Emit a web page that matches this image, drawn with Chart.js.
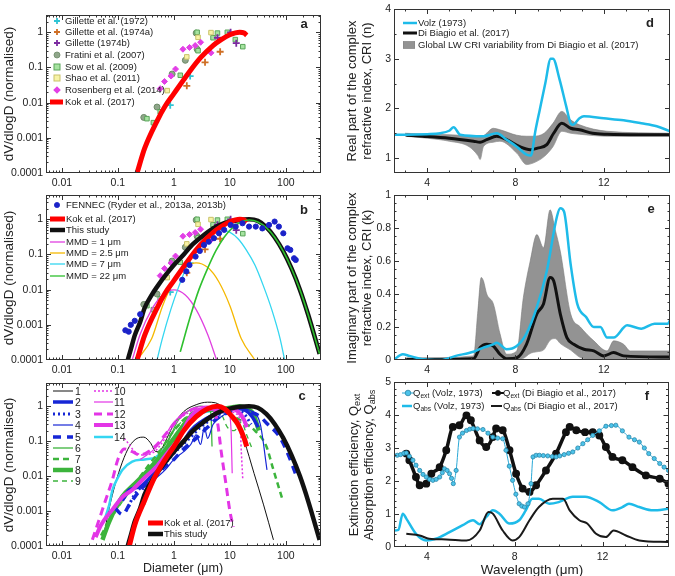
<!DOCTYPE html>
<html>
<head>
<meta charset="utf-8">
<script src="https://cdn.jsdelivr.net/npm/chart.js@4.4.1/dist/chart.umd.min.js"></script>
<style>
  body { margin: 0; background: #fff; width: 675px; height: 576px; overflow: hidden; position: relative;
         font-family: "Liberation Sans", Arial, sans-serif; color: #222; }
  canvas { position: absolute; }
  .t { position: absolute; white-space: nowrap; font-size: 9.5px; line-height: 12px; }
  .sw { position: absolute; }
  .yt { position: absolute; white-space: nowrap; text-align: center; transform: translate(-50%, -50%) rotate(-90deg); }
  .xt { position: absolute; white-space: nowrap; transform: translate(-50%, -50%); }
  .pl { position: absolute; font-weight: bold; font-size: 13px; transform: translate(-50%, -50%); }
  sub { font-size: 70%; vertical-align: -0.25em; line-height: 0; }
</style>
</head>
<body>
<script>
// ---------- panel a / b : size distributions (D in um, dV/dlogD normalised) ----------
const gil72 = [[0.86, 0.0085], [1.95, 0.057]];
const gil74a = [[1.7, 0.03], [3.6, 0.14], [6.7, 0.28]];
const gil74b = [[6, 0.7], [10.3, 1.0], [13, 0.49]];
const fratini = [[0.29, 0.0038], [0.5, 0.0075], [0.93, 0.065], [1.6, 0.16], [2.5, 0.95], [2.6, 0.33]];
const sow = [[0.33, 0.0035], [0.43, 0.0027], [0.57, 0.0055], [1.3, 0.06], [2.6, 1.0], [2.7, 0.3],
             [5, 0.7], [6, 0.95], [9, 1.0], [12.5, 0.62], [17, 0.39]];
const shao = [[0.76, 0.022], [1.7, 0.2], [2.7, 0.72], [4.6, 0.98]];
const rosenberg = [[0.57, 0.025], [0.68, 0.04], [0.89, 0.057], [1.07, 0.09], [1.45, 0.33], [1.9, 0.37],
                   [2.4, 0.42], [3, 0.52], [4.6, 0.26]];
const kok = [[0.22, 0.0001], [0.3, 0.0005], [0.5, 0.003], [0.7, 0.008], [1, 0.018], [1.5, 0.045], [2, 0.085],
             [3, 0.19], [5, 0.42], [7, 0.62], [10, 0.85], [15, 1.0], [18, 0.95], [20, 0.82]];
const fennec = [[0.136, 0.0007], [0.156, 0.00064], [0.17, 0.001], [0.2, 0.0013], [0.25, 0.002],
                [1.41, 0.019], [1.67, 0.033], [1.9, 0.05], [2.44, 0.087],
                [2.9, 0.126], [3.45, 0.186], [4.2, 0.23], [5.2, 0.29], [6.4, 0.4], [7.9, 0.5], [10.3, 0.69],
                [12.7, 0.62], [16.8, 0.77], [22, 0.62], [29, 0.62], [38, 0.55], [50, 0.69], [63, 0.86],
                [75, 0.62], [90, 0.4], [107, 0.15], [120, 0.135], [140, 0.078], [150, 0.07]];
const thisStudy = [[0.15, 0.0001], [0.17, 0.0002], [0.2, 0.0005], [0.25, 0.0012], [0.3, 0.003], [0.4, 0.007],
                   [0.5, 0.012], [0.7, 0.025], [1, 0.05], [1.5, 0.1], [2, 0.17], [3, 0.3], [5, 0.55], [7, 0.72],
                   [10, 0.85], [15, 0.96], [22, 1.0], [31.6, 0.9], [44.7, 0.6], [63, 0.31], [89, 0.126],
                   [126, 0.04], [178, 0.01], [251, 0.0019], [400, 0.00015]];
const mmd1 = [[0.18, 0.0001], [0.25, 0.00054], [0.4, 0.0027], [0.63, 0.007], [1, 0.0098], [1.6, 0.007],
              [2.5, 0.0027], [4, 0.00054], [5.8, 0.0001]];
const mmd25 = [[0.22, 0.0001], [0.4, 0.0004], [0.63, 0.0035], [1, 0.017], [1.6, 0.043], [2.5, 0.058],
               [4, 0.043], [6.3, 0.017], [10, 0.0035], [16, 0.0004], [28, 0.0001]];
const mmd7 = [[0.5, 0.0001], [0.62, 0.0004], [0.88, 0.0027], [1.24, 0.013], [1.75, 0.05], [2.5, 0.135],
              [3.5, 0.28], [4.95, 0.43], [7, 0.5], [9.9, 0.43], [14, 0.28], [19.6, 0.135], [28, 0.05],
              [39.5, 0.013], [56, 0.0027], [79, 0.0004], [95, 0.0001]];
const mmd22 = [[1.3, 0.00017], [2, 0.0019], [2.8, 0.01], [4, 0.04], [5.6, 0.126], [7.9, 0.31], [11.2, 0.58],
               [15.8, 0.84], [22.4, 0.95], [31.6, 0.84], [44.7, 0.58], [63, 0.31], [89, 0.126], [126, 0.04],
               [178, 0.01], [251, 0.0019], [400, 0.00015]];

// ---------- panel c : individual size distributions ----------
const c1 = [[0.055, 0.00017], [0.07, 0.0012], [0.09, 0.006], [0.12, 0.025], [0.16, 0.07], [0.22, 0.12],
            [0.29, 0.13], [0.38, 0.09], [0.48, 0.05], [0.6, 0.06], [0.8, 0.15], [1, 0.3], [1.5, 0.7], [2.5, 1.1],
            [4, 1.3], [5.5, 1.25], [8, 0.85], [12, 0.4], [18, 0.1], [27, 0.012], [40, 0.0015], [60, 0.00015]];
const c2 = [[0.12, 0.002], [0.16, 0.004], [0.25, 0.005], [0.4, 0.01], [0.6, 0.02], [1, 0.05], [1.5, 0.1],
            [2, 0.2], [3, 0.35], [5, 0.55], [8, 0.75], [12, 0.9], [18, 0.8], [25, 0.5], [32, 0.25]];
const c3 = [[0.14, 0.001], [0.2, 0.003], [0.3, 0.006], [0.5, 0.012], [0.8, 0.03], [1.2, 0.06], [2, 0.13],
            [3, 0.25], [5, 0.45], [8, 0.7], [12, 0.85], [18, 0.6], [24, 0.3]];
const c4 = [[0.15, 0.003], [0.22, 0.005], [0.3, 0.004], [0.45, 0.008], [0.7, 0.015], [1, 0.03], [1.5, 0.05],
            [2, 0.08], [2.5, 0.15], [3, 0.08], [3.5, 0.25], [4, 0.12], [5, 0.3], [7, 0.5], [10, 0.7], [15, 0.85],
            [25, 0.7], [35, 0.3], [46, 0.015]];
const c5 = [[0.09, 0.0012], [0.12, 0.0008], [0.16, 0.0015], [0.25, 0.004], [0.4, 0.008], [0.6, 0.015],
            [1, 0.03], [1.5, 0.06], [2.5, 0.12], [4, 0.25], [6, 0.45], [10, 0.7], [15, 0.85], [22, 0.7],
            [35, 0.5], [45, 0.33], [78, 0.13], [115, 0.035], [156, 0.0095]];
const c6 = [[0.3, 0.0015], [0.32, 0.004], [0.4, 0.008], [0.6, 0.03], [0.8, 0.1], [1.2, 0.4], [2, 0.8],
            [3, 1.0], [4, 0.9], [4.6, 0.6], [4.8, 0.07]];
const c7 = [[0.05, 0.0002], [0.08, 0.0008], [0.12, 0.002], [0.2, 0.006], [0.35, 0.02], [0.6, 0.06], [1, 0.2],
            [2, 0.6], [4, 0.85], [8, 0.7], [12, 0.5], [20, 0.3], [28, 0.2], [45, 0.07], [58, 0.018], [85, 0.0024]];
const c8 = [[0.053, 0.00015], [0.07, 0.0005], [0.12, 0.0026], [0.2, 0.006], [0.35, 0.015], [0.6, 0.04],
            [1, 0.12], [2, 0.5], [3, 0.75], [5, 0.8], [8, 0.85], [12, 0.95], [15, 1.0], [20, 0.85], [26, 0.6], [33, 0.2]];
const c9 = [[0.06, 0.0003], [0.1, 0.0012], [0.15, 0.003], [0.25, 0.008], [0.4, 0.02], [0.7, 0.08], [1, 0.2],
            [2, 0.6], [4, 0.9], [7, 0.6], [9, 0.25], [12, 0.2], [16, 0.35], [20, 0.15], [25, 0.06]];
const c10 = [[0.13, 0.12], [0.16, 0.08], [0.2, 0.05], [0.3, 0.04], [0.45, 0.05], [0.7, 0.12], [1, 0.3],
             [2, 0.7], [4, 0.9], [8, 0.85], [13, 0.6], [15, 0.4], [16, 0.05], [17, 0.008]];
const c11 = [[0.25, 0.03], [0.4, 0.05], [0.6, 0.1], [1, 0.35], [2, 0.8], [4, 1.0], [7, 0.8], [9.5, 0.7],
             [10.5, 0.2], [11, 0.012]];
const c12 = [[0.035, 0.00015], [0.045, 0.0005], [0.06, 0.002], [0.08, 0.008], [0.1, 0.03], [0.13, 0.06],
             [0.18, 0.05], [0.25, 0.04], [0.35, 0.05], [0.5, 0.08], [0.8, 0.2], [1.5, 0.6], [3, 0.9], [5, 0.8],
             [6, 0.35], [7, 0.05], [8.5, 0.006], [10, 0.001], [11.5, 0.00035]];
const c13 = [[0.04, 0.00018], [0.05, 0.0004], [0.08, 0.0011], [0.12, 0.0025], [0.18, 0.004], [0.3, 0.009],
             [0.48, 0.018], [0.8, 0.05], [1.2, 0.11], [2, 0.5], [3, 0.8], [5, 0.85], [7, 0.7], [10, 0.85],
             [14, 0.7], [18, 0.4], [20, 0.25]];
const c14 = [[0.056, 0.0005], [0.07, 0.0015], [0.08, 0.004], [0.1, 0.009], [0.12, 0.015], [0.18, 0.026],
             [0.3, 0.03], [0.48, 0.035], [0.8, 0.08], [1.2, 0.18], [1.6, 0.3], [2.5, 0.55], [4, 0.7], [6, 0.75], [9, 0.6]];
const kokC = [[0.16, 0.0001], [0.2, 0.0004], [0.3, 0.002], [0.45, 0.009], [0.7, 0.03], [1, 0.07], [1.5, 0.2],
              [2.5, 0.5], [4, 0.85], [6, 1.0], [8, 0.85], [11, 0.5], [14, 0.3], [18, 0.12], [20, 0.07]];

// ---------- panel d : real refractive index ----------
const volzN = [[2.48, 1.47], [3.06, 1.47], [4, 1.48], [4.6, 1.5], [5.0, 1.55], [5.2, 1.62], [5.5, 1.47],
               [6.55, 1.44], [7.15, 1.5], [7.6, 1.37], [8.06, 1.23], [8.5, 1.07], [8.7, 1.05], [8.9, 1.54],
               [9.1, 1.97], [9.35, 2.5], [9.6, 3.0], [9.7, 3.0], [10.0, 2.58], [10.3, 2.04], [10.5, 1.7],
               [10.6, 1.67], [10.9, 1.8], [11.1, 1.84], [12, 1.8], [12.9, 1.76], [13.7, 1.7], [14.4, 1.64], [15, 1.54]];
const dbN = [[3.06, 1.46], [3.8, 1.44], [5.0, 1.4], [6.1, 1.34], [6.4, 1.32], [6.7, 1.37], [7.15, 1.44],
             [7.6, 1.37], [8.2, 1.23], [8.67, 1.17], [9, 1.2], [9.42, 1.27], [9.73, 1.5], [10.1, 1.7],
             [10.5, 1.6], [10.9, 1.57], [11.5, 1.5], [12.15, 1.48], [13.7, 1.47], [15, 1.47]];
const bandNx = [3.0, 4.0, 5.0, 5.9, 6.3, 6.4, 6.55, 7.0, 7.3, 8.06, 8.5, 8.8, 9.3, 9.7, 10.1, 10.5, 10.9, 12.15, 15];
const bandNhi = [1.5, 1.48, 1.47, 1.45, 1.44, 1.44, 1.45, 1.6, 1.57, 1.46, 1.44, 1.44, 1.5, 1.7, 1.94, 1.77, 1.67, 1.54, 1.5];
const bandNlo = [1.44, 1.4, 1.34, 1.23, 1.05, 0.97, 1.23, 1.32, 1.34, 1.1, 0.87, 0.9, 1.03, 1.23, 1.54, 1.5, 1.48, 1.44, 1.44];

// ---------- panel e : imaginary refractive index ----------
const volzK = [[2.48, 0], [2.9, 0.035], [3.2, 0.025], [3.8, 0.005], [4.6, 0.0], [5.3, 0.025], [6.1, 0.05],
               [6.55, 0.075], [7.0, 0.095], [7.15, 0.105], [7.6, 0.065], [8.06, 0.085], [8.5, 0.16], [8.97, 0.32],
               [9.42, 0.54], [9.88, 0.87], [10.03, 0.92], [10.2, 0.9], [10.5, 0.58], [10.8, 0.34], [11.2, 0.26],
               [11.55, 0.2], [11.85, 0.2], [12.15, 0.136], [12.45, 0.136], [13.06, 0.21], [13.7, 0.19],
               [14.3, 0.22], [14.9, 0.22], [15, 0.24]];
const dbK = [[3.06, 0.004], [4.5, 0.004], [6.1, 0.008], [6.4, 0.075], [6.7, 0.095], [7, 0.085], [7.3, 0.035],
             [7.6, 0.008], [8.06, 0.014], [8.5, 0.095], [8.97, 0.28], [9.27, 0.34], [9.57, 0.5], [9.73, 0.48],
             [10.03, 0.28], [10.33, 0.136], [10.64, 0.095], [11.1, 0.065], [11.55, 0.055], [12, 0.025],
             [12.45, 0.045], [12.9, 0.025], [15, 0.018]];
const bandKx = [3.0, 6.1, 6.3, 6.45, 6.55, 6.7, 7.0, 7.3, 7.6, 8.06, 8.36, 8.67, 8.97, 9.27, 9.57, 9.8, 10.03,
                10.5, 10.94, 11.55, 12.15, 12.45, 12.9, 13.2, 15];
const bandKhi = [0.01, 0.025, 0.3, 0.5, 0.48, 0.4, 0.34, 0.16, 0.035, 0.055, 0.38, 0.6, 0.76, 0.68, 0.91, 0.79,
                 0.66, 0.28, 0.2, 0.116, 0.055, 0.116, 0.095, 0.055, 0.055];
const bandKlo = [0, 0, 0, 0, 0, 0, 0, 0, 0, 0, 0.01, 0.04, 0.05, 0.06, 0.12, 0.13, 0.1, 0.06, 0.015, 0, 0, 0, 0, 0, 0];

// ---------- panel f : extinction / absorption efficiency ----------
const volzQext = [[2.48, 2.78], [2.65, 2.78], [2.8, 2.8], [2.95, 2.84], [3.06, 2.85], [3.2, 2.75], [3.36, 2.63],
                  [3.5, 2.48], [3.67, 2.32], [3.82, 2.2], [3.97, 2.12], [4.12, 2.05], [4.27, 2.02], [4.42, 2.05],
                  [4.58, 2.12], [4.7, 2.25], [4.8, 2.37], [4.92, 2.32], [5.03, 2.22], [5.12, 2.08], [5.2, 1.92],
                  [5.33, 2.32], [5.48, 3.33], [5.62, 3.45], [5.8, 3.53], [5.95, 3.57], [6.1, 3.59], [6.3, 3.58],
                  [6.55, 3.56], [6.78, 3.45], [7.0, 3.33], [7.22, 3.3], [7.45, 3.28], [7.6, 2.93], [7.75, 2.45],
                  [7.9, 2.02], [8.05, 1.6], [8.2, 1.31], [8.32, 1.24], [8.44, 1.21], [8.6, 1.31], [8.74, 1.92],
                  [8.83, 2.73], [8.97, 2.78], [9.12, 2.78], [9.3, 2.77], [9.5, 2.76], [9.7, 2.74], [9.88, 2.73],
                  [10.05, 2.76], [10.25, 2.8], [10.45, 2.84], [10.64, 2.88], [10.87, 3.0], [11.1, 3.13],
                  [11.32, 3.25], [11.55, 3.38], [11.85, 3.52], [12.15, 3.66], [12.4, 3.68], [12.6, 3.69],
                  [12.9, 3.52], [13.2, 3.33], [13.45, 3.25], [13.67, 3.18], [13.9, 3.0], [14.1, 2.83],
                  [14.35, 2.68], [14.6, 2.53], [14.8, 2.42], [15, 2.32]];
const dbQext = [[3.06, 2.83], [3.2, 2.63], [3.5, 2.12], [3.67, 1.87], [3.97, 1.92], [4.2, 2.22], [4.58, 2.42],
                [4.88, 2.93], [5.18, 3.64], [5.48, 3.69], [5.8, 3.99], [6.0, 3.84], [6.4, 3.23], [6.7, 3.03],
                [7.0, 3.33], [7.15, 3.59], [7.45, 3.54], [7.76, 2.93], [8.06, 2.22], [8.36, 1.77], [8.67, 1.67],
                [8.97, 1.87], [9.42, 2.32], [9.88, 2.83], [10.33, 3.48], [10.5, 3.64], [10.8, 3.54], [11.2, 3.48],
                [11.55, 3.48], [11.85, 3.38], [12.15, 3.03], [12.45, 2.73], [12.9, 2.63], [13.36, 2.42],
                [13.97, 2.17], [14.6, 2.07], [15, 1.92]];
const volzQabs = [[2.48, 0.5], [2.7, 0.52], [2.9, 1.01], [3.06, 0.86], [3.5, 0.4], [3.97, 0.2], [4.4, 0.25],
                  [5.03, 0.45], [5.63, 0.66], [6.1, 0.81], [6.4, 0.69], [6.7, 0.91], [7.0, 1.11], [7.3, 1.01],
                  [7.76, 0.71], [8.2, 0.81], [8.5, 1.11], [8.8, 1.46], [9.1, 1.46], [9.57, 1.31], [10.0, 1.36],
                  [10.64, 1.52], [11.2, 1.52], [11.85, 1.36], [12.45, 1.11], [12.9, 1.21], [13.2, 1.31],
                  [13.67, 1.21], [14.3, 1.11], [15, 1.16]];
const dbQabs = [[3.06, 0.4], [3.67, 0.35], [4.1, 0.25], [4.88, 0.23], [5.8, 0.2], [6.4, 0.5], [6.8, 1.06],
                [7.0, 1.01], [7.45, 0.5], [7.9, 0.2], [8.2, 0.3], [8.67, 0.81], [9.1, 1.21], [9.73, 1.46],
                [10.2, 1.46], [10.5, 1.11], [10.94, 0.81], [11.3, 0.71], [11.7, 0.4], [12.15, 0.3], [12.5, 0.5],
                [13.06, 0.35], [13.67, 0.2], [15, 0.15]];

// ---------- tick values ----------
const logXTicks = [0.01, 0.1, 1, 10, 100];
const logYTicks = [0.0001, 0.001, 0.01, 0.1, 1];
const wlTicks = [4, 8, 12];
const nTicks = [1, 2, 3, 4];
const kTicks = [0, 0.2, 0.4, 0.6, 0.8, 1];
const qTicks = [0, 1, 2, 3, 4, 5];

// ---------- helpers ----------
const FONT = '"Liberation Sans", Arial, sans-serif';
const L = 40, R = 6, T = 10, B = 22;
const xy = a => a.map(([x, y]) => ({ x, y }));
const zip = (xs, ys) => xs.map((x, i) => [x, ys[i]]);
const logMinor = (e0, e1) => { const o = []; for (let e = e0; e <= e1; e++) for (let m = 2; m <= 9; m++) o.push(m * Math.pow(10, e)); return o; };
const linMinor = (a, b, s) => { const o = []; for (let v = a; v <= b + 1e-9; v += s) o.push(v); return o; };

const ln = (data, color, w, extra = {}) => ({
  data: xy(data), borderColor: color, borderWidth: w, pointRadius: 0, fill: false,
  cubicInterpolationMode: 'monotone', ...extra
});
const mk = (data, style, fillC, borderC, r, extra = {}) => ({
  data: xy(data), showLine: false, pointStyle: style, pointRadius: r,
  pointBackgroundColor: fillC, pointBorderColor: borderC, pointBorderWidth: 1, ...extra
});

function axis(s, isX) {
  return {
    type: s.type, min: s.min, max: s.max,
    grid: { display: false, drawTicks: false }, border: { display: false },
    ticks: { autoSkip: false, maxRotation: 0, padding: isX ? 4 : 3, color: '#222',
             font: { family: FONT, size: 10.5 }, callback: v => String(v) },
    afterBuildTicks: sc => { sc.ticks = s.major.map(v => ({ value: v })); },
    afterFit: sc => { if (isX) sc.height = B; else sc.width = L; }
  };
}

function panel(g, list, xs, ys) {
  const cv = document.createElement('canvas');
  cv.width = g.w + L + R; cv.height = g.h + T + B;
  cv.style.left = (g.l - L) + 'px'; cv.style.top = (g.t - T) + 'px';
  document.body.appendChild(cv);
  list.forEach((d, i) => { d.order = list.length - i; });   // later in list = drawn on top

  const frame = {
    id: 'frame',
    afterDatasetsDraw(chart) {
      const { ctx, chartArea: a, scales } = chart;
      ctx.save();
      ctx.strokeStyle = '#333'; ctx.lineWidth = 1;
      ctx.beginPath();
      const mark = (vals, len, isX) => vals.forEach(v => {
        if (isX) {
          const p = Math.round(scales.x.getPixelForValue(v)) + 0.5;
          if (p < a.left + 1 || p > a.right - 1) return;
          ctx.moveTo(p, a.bottom); ctx.lineTo(p, a.bottom - len);
          ctx.moveTo(p, a.top); ctx.lineTo(p, a.top + len);
        } else {
          const p = Math.round(scales.y.getPixelForValue(v)) + 0.5;
          if (p < a.top + 1 || p > a.bottom - 1) return;
          ctx.moveTo(a.left, p); ctx.lineTo(a.left + len, p);
          ctx.moveTo(a.right, p); ctx.lineTo(a.right - len, p);
        }
      });
      mark(xs.major, 5, true); mark(xs.minor, 2.5, true);
      mark(ys.major, 5, false); mark(ys.minor, 2.5, false);
      ctx.stroke();
      ctx.strokeRect(Math.round(a.left) + 0.5, Math.round(a.top) + 0.5, Math.round(a.width) - 1, Math.round(a.height) - 1);
      ctx.restore();
    }
  };

  return new Chart(cv, {
    type: 'line',
    data: { datasets: list },
    options: {
      responsive: false, animation: false, devicePixelRatio: 1,
      layout: { padding: { top: T, right: R, left: 0, bottom: 0 } },
      plugins: { legend: { display: false }, tooltip: { enabled: false } },
      scales: { x: axis(xs, true), y: axis(ys, false) }
    },
    plugins: [frame]
  });
}

// ---------- colours ----------
const CY = '#1ebbe9', RED = '#ff0000', BLU = '#1626d6', GRN = '#3cb43c', MAG = '#e335e6', BLK = '#111';
const st = {
  gil72: ['cross', '#2fc4d4', '#2fc4d4'], gil74a: ['cross', '#cf6f25', '#cf6f25'], gil74b: ['cross', '#7b2aa0', '#7b2aa0'],
  fratini: ['circle', '#8fa68a', '#6d8a68'], sow: ['rect', '#a6e3a0', '#5aa55a'],
  shao: ['rect', '#f7f3a6', '#c9c26a'], rosenberg: ['rectRot', '#e23fe6', '#e23fe6']
};
const scatterSets = () => [
  mk(fratini, ...st.fratini, 3), mk(sow, ...st.sow, 3.2), mk(shao, ...st.shao, 3.2),
  mk(gil72, ...st.gil72, 3.5, { pointBorderWidth: 1.8 }), mk(gil74a, ...st.gil74a, 3.5, { pointBorderWidth: 1.8 }),
  mk(gil74b, ...st.gil74b, 3.5, { pointBorderWidth: 1.8 }), mk(rosenberg, ...st.rosenberg, 3)
];

// ---------- geometry ----------
const G = {
  a: { l: 46, t: 15, w: 275, h: 158 }, b: { l: 46, t: 195, w: 275, h: 165 }, c: { l: 46, t: 383, w: 275, h: 163 },
  d: { l: 394, t: 9, w: 276, h: 164 }, e: { l: 394, t: 195, w: 276, h: 165 }, f: { l: 394, t: 382, w: 276, h: 165 }
};
const xLog = { type: 'logarithmic', min: 0.0052, max: 424, major: logXTicks, minor: logMinor(-3, 2) };
const yLog = max => ({ type: 'logarithmic', min: 0.0001, max, major: logYTicks, minor: logMinor(-4, 0) });
const xWl = { type: 'linear', min: 2.5, max: 15, major: wlTicks, minor: linMinor(3, 15, 1) };

// panel a
panel(G.a, [...scatterSets(), ln(kok, RED, 5)], xLog, yLog(3.1));

// panel b
panel(G.b, [
  ...scatterSets(),
  ln(mmd1, '#e040e0', 1.3), ln(mmd25, '#f5b800', 1.3), ln(mmd7, '#33d6f0', 1.3),
  ln(thisStudy, BLK, 4.5), ln(kok, RED, 5), ln(mmd22, '#2ec02e', 1.6),
  mk(fennec, 'circle', '#1b22c8', '#1b22c8', 2.6)
], xLog, yLog(4.9));

// panel c
panel(G.c, [
  ln(c1, BLK, 1),
  ln(c14, '#34d6f2', 2.5),
  ln(c9, GRN, 1.3, { borderDash: [5, 4] }), ln(c7, GRN, 2.5, { borderDash: [6, 4] }),
  ln(c6, GRN, 1.3), ln(c8, GRN, 4.5),
  ln(c4, BLU, 1.2), ln(c3, BLU, 3, { borderDash: [2, 3] }), ln(c5, BLU, 3.5, { borderDash: [8, 6] }), ln(c2, BLU, 3.5),
  ln(c10, MAG, 1.5, { borderDash: [2, 2] }), ln(c11, MAG, 1.2), ln(c12, MAG, 3, { borderDash: [8, 5] }), ln(c13, MAG, 4),
  ln(thisStudy, BLK, 4.5), ln(kokC, RED, 5)
], xLog, yLog(4.6));

// panel d
panel(G.d, [
  ln(zip(bandNx, bandNlo), '#7a7a7a', 0.6),
  ln(zip(bandNx, bandNhi), '#7a7a7a', 0.6, { fill: '-1', backgroundColor: '#939393' }),
  ln(dbN, BLK, 3), ln(volzN, CY, 2.5)
], xWl, { type: 'linear', min: 0.7, max: 4, major: nTicks, minor: linMinor(1, 4, 0.5) });

// panel e
panel(G.e, [
  ln(zip(bandKx, bandKlo), '#7a7a7a', 0.6),
  ln(zip(bandKx, bandKhi), '#7a7a7a', 0.6, { fill: '-1', backgroundColor: '#939393' }),
  ln(dbK, BLK, 3), ln(volzK, CY, 2.5)
], xWl, { type: 'linear', min: 0, max: 1, major: kTicks, minor: linMinor(0, 1, 0.05) });

// panel f
panel(G.f, [
  ln(volzQabs, CY, 2.5), ln(dbQabs, '#1a1a1a', 2),
  ln(dbQext, BLK, 3.5, { pointRadius: 2.2, pointBackgroundColor: BLK, pointBorderColor: BLK }),
  ln(volzQext, '#2aa8d6', 1, { pointRadius: 2.1, pointStyle: 'circle', pointBackgroundColor: '#4cc3ea',
                               pointBorderColor: '#2a86a8', pointBorderWidth: 0.8 })
], xWl, { type: 'linear', min: 0, max: 5, major: qTicks, minor: linMinor(0, 5, 0.2) });

// ---------- text: titles, labels, legends ----------
function addText(cls, html, x, y, style = '') {
  const d = document.createElement('div');
  d.className = cls; d.innerHTML = html;
  d.style.cssText += `left:${x}px;top:${y}px;${style}`;
  document.body.appendChild(d);
}
['a', 'b', 'c'].forEach(k => addText('yt', 'dV/dlogD (normalised)', 8, G[k].t + G[k].h / 2, 'font-size:13.5px'));
addText('yt', 'Real part of the complex<br>refractive index, CRI (n)', 359, G.d.t + G.d.h / 2, 'font-size:13px;line-height:15px');
addText('yt', 'Imaginary part of the complex<br>refractive index, CRI (k)', 359, G.e.t + G.e.h / 2, 'font-size:13px;line-height:15px');
addText('yt', 'Extinction efficiency, Q<sub>ext</sub><br>Absorption efficiency, Q<sub>abs</sub>', 361, G.f.t + G.f.h / 2, 'font-size:13px;line-height:15px');
addText('xt', 'Diameter (μm)', 183, 568, 'font-size:12.5px');
addText('xt', 'Wavelength (μm)', 532, 569, 'font-size:13.5px');
[['a', 304, 23], ['b', 304, 209], ['c', 302, 395], ['d', 650, 22], ['e', 651, 208], ['f', 647, 395]]
  .forEach(([s, x, y]) => addText('pl', s, x, y));

function swatch(it) {
  const w = it.sw, h = 12, cy = 6;
  let s = `<svg class="sw" width="${w}" height="${h}" style="left:${it.sx}px;top:${it.y - 6}px">`;
  if (it.box) s += `<rect x="0" y="2.5" width="${w}" height="7" fill="${it.box}" stroke="#777" stroke-width="0.6"/>`;
  if (it.line) s += `<line x1="0" y1="${cy}" x2="${w}" y2="${cy}" stroke="${it.line}" stroke-width="${it.lw}"${it.dash ? ` stroke-dasharray="${it.dash}"` : ''}/>`;
  if (it.mk) {
    const [shape, f, b] = it.mk, cx = w / 2, r = it.r || 3;
    if (shape === 'cross') s += `<path d="M${cx - r} ${cy}H${cx + r}M${cx} ${cy - r}V${cy + r}" stroke="${b}" stroke-width="1.8"/>`;
    if (shape === 'circle') s += `<circle cx="${cx}" cy="${cy}" r="${r}" fill="${f}" stroke="${b}" stroke-width="0.8"/>`;
    if (shape === 'rect') s += `<rect x="${cx - r}" y="${cy - r}" width="${2 * r}" height="${2 * r}" fill="${f}" stroke="${b}"/>`;
    if (shape === 'rectRot') s += `<path d="M${cx} ${cy - r - 0.8}L${cx + r + 0.8} ${cy}L${cx} ${cy + r + 0.8}L${cx - r - 0.8} ${cy}Z" fill="${f}"/>`;
  }
  return s + '</svg>';
}
function legend(items, size) {
  items.forEach(it => {
    document.body.insertAdjacentHTML('beforeend', swatch(it));
    addText('t', it.text, it.tx, it.y - 6, size ? `font-size:${size}px` : '');
  });
}

const aRows = [20.7, 32.3, 43.3, 55, 66.7, 78.3, 90, 101.7];
legend([
  ['Gillette et al. (1972)', st.gil72], ['Gillette et al. (1974a)', st.gil74a], ['Gillette (1974b)', st.gil74b],
  ['Fratini et al. (2007)', st.fratini], ['Sow et al. (2009)', st.sow], ['Shao et al. (2011)', st.shao],
  ['Rosenberg et al. (2014)', st.rosenberg]
].map(([text, m], i) => ({ text, mk: m, sx: 52, sw: 10, tx: 65, y: aRows[i] }))
  .concat([{ text: 'Kok et al. (2017)', line: RED, lw: 5, sx: 50, sw: 13, tx: 65, y: aRows[7] }]));

const bRows = [205, 219.3, 230.3, 241.7, 252.7, 264, 276];
legend([
  { text: 'FENNEC (Ryder et al., 2013a, 2013b)', mk: ['circle', '#1b22c8', '#1b22c8'], r: 2.6, sx: 52, sw: 10 },
  { text: 'Kok et al. (2017)', line: RED, lw: 5 }, { text: 'This study', line: BLK, lw: 4.5 },
  { text: 'MMD = 1 μm', line: '#e040e0', lw: 1.3 }, { text: 'MMD = 2.5 μm', line: '#f5b800', lw: 1.3 },
  { text: 'MMD = 7 μm', line: '#33d6f0', lw: 1.3 }, { text: 'MMD = 22 μm', line: '#2ec02e', lw: 1.3 }
].map((it, i) => ({ sx: 50, sw: 15, tx: 66, y: bRows[i], ...it })));

const cRows = [391, 402, 413.7, 425.3, 436.7, 447.7, 459, 470, 481];
const cStyles = [
  [BLK, 1], [BLU, 3.5], [BLU, 3, '2 3'], [BLU, 1.2], [BLU, 3.5, '8 6'], [GRN, 1.3], [GRN, 2.5, '6 4'],
  [GRN, 4.5], [GRN, 1.3, '5 4'], [MAG, 1.5, '2 2'], [MAG, 1.2], [MAG, 3, '8 5'], [MAG, 4], ['#34d6f2', 2.5]
];
legend(cStyles.map(([col, lw, dash], i) => i < 9
  ? { text: String(i + 1), line: col, lw, dash, sx: 53, sw: 20, tx: 75, y: cRows[i] }
  : { text: String(i + 1), line: col, lw, dash, sx: 94, sw: 19, tx: 114, y: cRows[i - 9] }), 10.5);
legend([
  { text: 'Kok et al. (2017)', line: RED, lw: 5, sx: 148, sw: 15, tx: 164, y: 523 },
  { text: 'This study', line: BLK, lw: 4.5, sx: 148, sw: 15, tx: 164, y: 534 }
]);

legend([
  { text: 'Volz (1973)', line: CY, lw: 2.5, sx: 403, sw: 14, tx: 418, y: 22.7 },
  { text: 'Di Biagio et al. (2017)', line: BLK, lw: 3, sx: 403, sw: 14, tx: 418, y: 33.3 },
  { text: 'Global LW CRI variability from Di Biagio et al. (2017)', box: '#939393', sx: 403, sw: 12, tx: 418, y: 45 }
]);

legend([
  { text: 'Q<sub>ext</sub> (Volz, 1973)', line: '#2aa8d6', lw: 1, mk: ['circle', '#4cc3ea', '#2a86a8'], r: 2.8, sx: 402, sw: 12, tx: 413, y: 392.5 },
  { text: 'Q<sub>ext</sub> (Di Biagio et al., 2017)', line: BLK, lw: 2, mk: ['circle', BLK, BLK], r: 2.6, sx: 492, sw: 12, tx: 503, y: 392.5 },
  { text: 'Q<sub>abs</sub> (Volz, 1973)', line: CY, lw: 2.5, sx: 402, sw: 10, tx: 413, y: 405.5 },
  { text: 'Q<sub>abs</sub> (Di Biagio et al., 2017)', line: '#1a1a1a', lw: 2, sx: 491, sw: 11, tx: 503, y: 405.5 }
]);
</script>
</body>
</html>
